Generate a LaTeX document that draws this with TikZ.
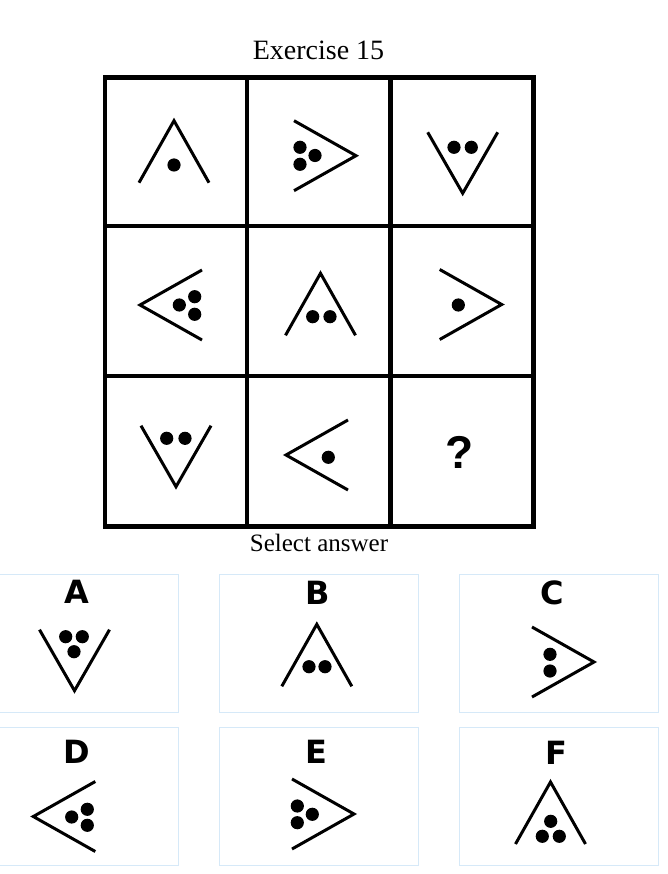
\documentclass[tikz,border=0pt]{standalone}
\usepackage{fontspec}
\setmainfont{Liberation Serif}
\newfontfamily\optfont{DejaVu Sans}
\newfontfamily\qfont{Liberation Sans}
\definecolor{optline}{RGB}{214,233,248}
\tikzset{arm/.style={line width=3pt},dot/.style={fill=black},gridline/.style={line width=4.5pt},optbox/.style={draw=optline,line width=1pt,minimum width=199pt,minimum height=137.7pt,inner sep=0pt},optlabel/.style={font=\optfont\bfseries\fontsize{32}{32}\selectfont,anchor=base,inner sep=0pt},
peak/.pic={\draw[arm] (-35,62) -- (0,0) -- (35,62);},vee/.pic={\draw[arm] (-35,-61) -- (0,0) -- (35,-61);},lchev/.pic={\draw[arm] (62,-35) -- (0,0) -- (62,35);},rchev/.pic={\draw[arm] (-62,-35) -- (0,0) -- (-62,35);}}
\begin{document}
\begin{tikzpicture}[x=1pt,y=-1pt]
\useasboundingbox (0,0) rectangle (668,874);
\node[anchor=base,inner sep=0pt,font=\fontsize{28}{28}\selectfont] (title) at (318.5,60) {Exercise 15};
\draw[gridline] (105,77.5) rectangle (533.5,526.5);
\foreach \x in {247,390.5} \draw[gridline] (\x,77.5) -- (\x,526.5);
\foreach \y in {226,376} \draw[gridline] (105,\y) -- (533.5,\y);
\pic at (174,120.7) {peak};
\fill[dot] (174,165) circle[radius=6.6];
\pic at (356,155.7) {rchev};
\foreach \p in {(300,147.3),(315,155.5),(300,164.3)} \fill[dot] \p circle[radius=6.6];
\pic at (462.7,193.3) {vee};
\foreach \p in {(454,147.3),(471.3,147.3)} \fill[dot] \p circle[radius=6.6];
\pic at (140,305) {lchev};
\foreach \p in {(179.3,305),(194.7,296.7),(194.7,314.3)} \fill[dot] \p circle[radius=6.6];
\pic at (320.5,273.3) {peak};
\foreach \p in {(312.7,316.7),(330,316.7)} \fill[dot] \p circle[radius=6.6];
\pic at (501.7,304.5) {rchev};
\fill[dot] (458.3,305) circle[radius=6.6];
\pic at (176,486.7) {vee};
\foreach \p in {(166.7,438.3),(185,438.3)} \fill[dot] \p circle[radius=6.6];
\pic at (286,455) {lchev};
\fill[dot] (328.3,457.3) circle[radius=6.6];
\node[font=\qfont\bfseries\fontsize{46}{46}\selectfont,inner sep=0pt] (missing) at (460,452) {?};
\node[anchor=base,inner sep=0pt,font=\fontsize{25}{25}\selectfont] (select) at (319,551) {Select answer};
\node[optbox] (optA) at (78.8,643.8) {};
\node[optbox] (optB) at (318.8,643.8) {};
\node[optbox] (optC) at (559.3,643.8) {};
\node[optbox] (optD) at (78.8,796.4) {};
\node[optbox] (optE) at (318.8,796.4) {};
\node[optbox] (optF) at (559.3,796.4) {};
\node[optlabel] (labA) at (77,603.5) {A};
\node[optlabel] (labB) at (317.5,604.5) {B};
\node[optlabel] (labC) at (552.5,604) {C};
\node[optlabel] (labD) at (76.3,763) {D};
\node[optlabel] (labE) at (316.7,763.5) {E};
\node[optlabel] (labF) at (556.3,764.5) {F};
\pic at (74.5,690.7) {vee};
\foreach \p in {(65.7,636.7),(82.3,636.7),(74,651.7)} \fill[dot] \p circle[radius=6.6];
\pic at (316.8,624.3) {peak};
\foreach \p in {(309,666.7),(325,666.7)} \fill[dot] \p circle[radius=6.6];
\pic at (594,662) {rchev};
\foreach \p in {(550,654.3),(550,671)} \fill[dot] \p circle[radius=6.6];
\pic at (33.3,816.5) {lchev};
\foreach \p in {(71.7,817),(87.3,809.3),(87.3,825.3)} \fill[dot] \p circle[radius=6.6];
\pic at (354,814) {rchev};
\foreach \p in {(297.3,806),(312.3,814.3),(297.3,822.7)} \fill[dot] \p circle[radius=6.6];
\pic at (550.5,782) {peak};
\foreach \p in {(550.7,821.3),(542.3,836.3),(559.3,836.3)} \fill[dot] \p circle[radius=6.6];
\end{tikzpicture}
\end{document}
